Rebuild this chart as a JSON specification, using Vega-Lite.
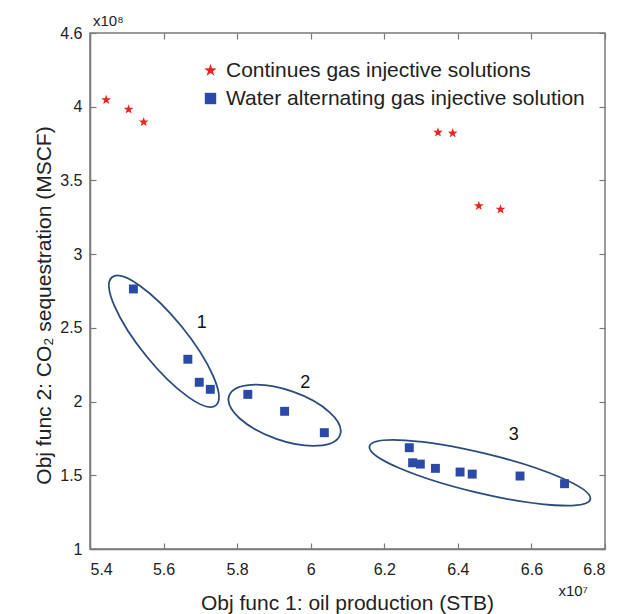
{
  "$schema": "https://vega.github.io/schema/vega-lite/v6.json",
  "width": 515,
  "height": 516,
  "autosize": {"type": "none"},
  "padding": {"left": 90, "top": 33, "right": 12, "bottom": 65},
  "background": "white",
  "config": {
    "view": {"stroke": "#7a7a7a", "strokeWidth": 1.5},
    "font": "Liberation Sans",
    "axis": {
      "domainColor": "#7a7a7a", "domainWidth": 1.5,
      "tickColor": "#7a7a7a", "tickWidth": 1.2, "tickSize": -6,
      "labelFont": "Liberation Sans", "labelFontSize": 16, "labelColor": "#222222",
      "titleFont": "Liberation Sans", "titleFontSize": 21, "titleFontWeight": "normal", "titleColor": "#222222",
      "grid": false
    }
  },
  "datasets": {
    "solutions": [
      {"oil": 5.444, "co2": 4.046, "type": "Continues gas injective solutions"},
      {"oil": 5.505, "co2": 3.982, "type": "Continues gas injective solutions"},
      {"oil": 5.546, "co2": 3.896, "type": "Continues gas injective solutions"},
      {"oil": 6.346, "co2": 3.826, "type": "Continues gas injective solutions"},
      {"oil": 6.386, "co2": 3.820, "type": "Continues gas injective solutions"},
      {"oil": 6.457, "co2": 3.327, "type": "Continues gas injective solutions"},
      {"oil": 6.516, "co2": 3.304, "type": "Continues gas injective solutions"},
      {"oil": 5.518, "co2": 2.764, "type": "Water alternating gas injective solution"},
      {"oil": 5.666, "co2": 2.287, "type": "Water alternating gas injective solution"},
      {"oil": 5.697, "co2": 2.131, "type": "Water alternating gas injective solution"},
      {"oil": 5.727, "co2": 2.083, "type": "Water alternating gas injective solution"},
      {"oil": 5.829, "co2": 2.049, "type": "Water alternating gas injective solution"},
      {"oil": 5.929, "co2": 1.934, "type": "Water alternating gas injective solution"},
      {"oil": 6.037, "co2": 1.789, "type": "Water alternating gas injective solution"},
      {"oil": 6.268, "co2": 1.687, "type": "Water alternating gas injective solution"},
      {"oil": 6.277, "co2": 1.585, "type": "Water alternating gas injective solution"},
      {"oil": 6.298, "co2": 1.576, "type": "Water alternating gas injective solution"},
      {"oil": 6.339, "co2": 1.547, "type": "Water alternating gas injective solution"},
      {"oil": 6.406, "co2": 1.522, "type": "Water alternating gas injective solution"},
      {"oil": 6.439, "co2": 1.508, "type": "Water alternating gas injective solution"},
      {"oil": 6.569, "co2": 1.495, "type": "Water alternating gas injective solution"},
      {"oil": 6.690, "co2": 1.443, "type": "Water alternating gas injective solution"}
    ],
    "clusters": [
      {"cluster": "1", "oil": 5.601, "co2": 2.409},
      {"cluster": "2", "oil": 5.929, "co2": 1.907},
      {"cluster": "3", "oil": 6.460, "co2": 1.517}
    ],
    "clusterLabels": [
      {"label": "1", "oil": 5.704, "co2": 2.531},
      {"label": "2", "oil": 5.985, "co2": 2.128},
      {"label": "3", "oil": 6.552, "co2": 1.773}
    ],
    "expY": [{"note": "x10⁸", "oil": 5.4, "co2": 4.5}],
    "expX": [{"note": "x10⁷", "oil": 6.8, "co2": 1.0}]
  },
  "layer": [
    {
      "data": {"name": "solutions"},
      "mark": {"type": "point", "filled": true, "size": 80, "opacity": 1, "strokeWidth": 0},
      "encoding": {
        "x": {
          "field": "oil", "type": "quantitative",
          "scale": {"domain": [5.4, 6.8], "nice": false, "zero": false},
          "axis": {
            "orient": "bottom",
            "values": [5.4, 5.6, 5.8, 6.0, 6.2, 6.4, 6.6, 6.8],
            "format": "~g",
            "labelPadding": 18,
            "title": "Obj func 1: oil production (STB)",
            "titleX": 257, "titleY": 60, "titleAlign": "center", "titleBaseline": "alphabetic"
          }
        },
        "y": {
          "field": "co2", "type": "quantitative",
          "scale": {"domain": [1, 4.5], "nice": false, "zero": false},
          "axis": {
            "orient": "left",
            "values": [1, 1.5, 2, 2.5, 3, 3.5, 4, 4.5],
            "labelExpr": "datum.value == 4.5 ? '4.6' : format(datum.value, '~g')",
            "labelPadding": 14,
            "title": "Obj func 2: CO₂ sequestration (MSCF)",
            "titleX": -40, "titleY": 272, "titleAngle": -90, "titleAlign": "center", "titleBaseline": "alphabetic"
          }
        },
        "color": {
          "field": "type", "type": "nominal",
          "scale": {
            "domain": ["Continues gas injective solutions", "Water alternating gas injective solution"],
            "range": ["#e8251f", "#2b4aa8"]
          },
          "legend": {
            "title": null, "orient": "none", "legendX": 110, "legendY": 27,
            "labelFont": "Liberation Sans", "labelFontSize": 21, "labelColor": "#222222", "labelLimit": 0,
            "symbolSize": 130, "symbolStrokeWidth": 0, "rowPadding": 6, "labelOffset": 5, "padding": 0
          }
        },
        "shape": {
          "field": "type", "type": "nominal",
          "scale": {
            "domain": ["Continues gas injective solutions", "Water alternating gas injective solution"],
            "range": ["M0,-1.15L0.27,-0.373L1.094,-0.355L0.437,0.143L0.676,0.93L0,0.46L-0.676,0.93L-0.437,0.143L-1.094,-0.355L-0.27,-0.373Z", "square"]
          },
          "legend": {
            "title": null, "orient": "none", "legendX": 110, "legendY": 27,
            "labelFont": "Liberation Sans", "labelFontSize": 21, "labelColor": "#222222", "labelLimit": 0,
            "symbolSize": 130, "symbolStrokeWidth": 0, "rowPadding": 6, "labelOffset": 5, "padding": 0
          }
        }
      }
    },
    {
      "data": {"name": "clusters"},
      "transform": [{"filter": "datum.cluster == '1'"}],
      "mark": {"type": "point", "filled": false, "size": 4, "strokeWidth": 1.8, "color": "#2b4a7d", "opacity": 1,
        "shape": "M51.9 64.1 A82.5 23 51 0 1 -17.9 14.5 A82.5 23 51 0 1 -51.9 -64.1 A82.5 23 51 0 1 17.9 -14.5 A82.5 23 51 0 1 51.9 64.1 Z"},
      "encoding": {
        "x": {
          "field": "oil", "type": "quantitative",
          "scale": {"domain": [5.4, 6.8], "nice": false, "zero": false},
          "axis": {"orient": "top", "values": [5.4, 5.6, 5.8, 6.0, 6.2, 6.4, 6.6, 6.8], "labels": false, "title": null, "domain": false}
        },
        "y": {
          "field": "co2", "type": "quantitative",
          "scale": {"domain": [1, 4.5], "nice": false, "zero": false},
          "axis": {"orient": "right", "values": [1, 1.5, 2, 2.5, 3, 3.5, 4, 4.5], "labels": false, "title": null, "domain": false}
        }
      }
    },
    {
      "data": {"name": "clusters"},
      "transform": [{"filter": "datum.cluster == '2'"}],
      "mark": {"type": "point", "filled": false, "size": 4, "strokeWidth": 1.8, "color": "#2b4a7d", "opacity": 1,
        "shape": "M55.5 19.4 A58.8 25 19.3 0 1 -8.3 23.6 A58.8 25 19.3 0 1 -55.5 -19.4 A58.8 25 19.3 0 1 8.3 -23.6 A58.8 25 19.3 0 1 55.5 19.4 Z"},
      "encoding": {
        "x": {"field": "oil", "type": "quantitative", "axis": null},
        "y": {"field": "co2", "type": "quantitative", "axis": null}
      }
    },
    {
      "data": {"name": "clusters"},
      "transform": [{"filter": "datum.cluster == '3'"}],
      "mark": {"type": "point", "filled": false, "size": 4, "strokeWidth": 1.8, "color": "#2b4a7d", "opacity": 1,
        "shape": "M110.4 26.5 A113.5 20 13.5 0 1 -4.7 19.4 A113.5 20 13.5 0 1 -110.4 -26.5 A113.5 20 13.5 0 1 4.7 -19.4 A113.5 20 13.5 0 1 110.4 26.5 Z"},
      "encoding": {
        "x": {"field": "oil", "type": "quantitative", "axis": null},
        "y": {"field": "co2", "type": "quantitative", "axis": null}
      }
    },
    {
      "data": {"name": "clusterLabels"},
      "mark": {"type": "text", "fontSize": 18, "font": "Liberation Sans", "color": "#111111"},
      "encoding": {
        "x": {"field": "oil", "type": "quantitative", "axis": null},
        "y": {"field": "co2", "type": "quantitative", "axis": null},
        "text": {"field": "label"}
      }
    },
    {
      "data": {"name": "expY"},
      "mark": {"type": "text", "fontSize": 15, "font": "Liberation Sans", "color": "#222222", "align": "left", "baseline": "alphabetic", "dx": 3, "dy": -7},
      "encoding": {
        "x": {"field": "oil", "type": "quantitative", "axis": null},
        "y": {"field": "co2", "type": "quantitative", "axis": null},
        "text": {"field": "note"}
      }
    },
    {
      "data": {"name": "expX"},
      "mark": {"type": "text", "fontSize": 15, "font": "Liberation Sans", "color": "#222222", "align": "right", "baseline": "alphabetic", "dx": -17, "dy": 47},
      "encoding": {
        "x": {"field": "oil", "type": "quantitative", "axis": null},
        "y": {"field": "co2", "type": "quantitative", "axis": null},
        "text": {"field": "note"}
      }
    }
  ],
  "resolve": {
    "axis": {"x": "independent", "y": "independent"}
  }
}
